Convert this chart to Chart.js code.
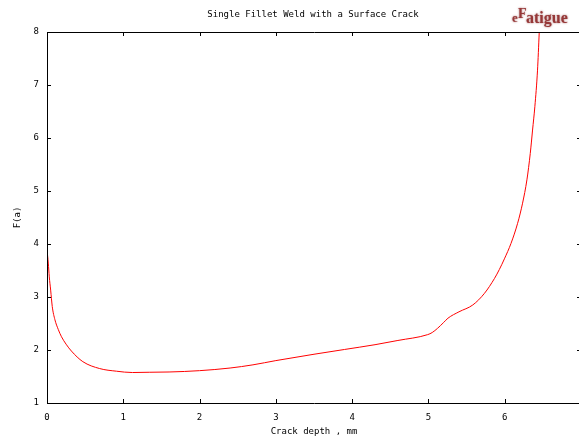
<!DOCTYPE html>
<html>
<head>
<meta charset="utf-8">
<script src="https://cdn.jsdelivr.net/npm/chart.js@4.4.0/dist/chart.umd.min.js"></script>
<style>
  html, body { margin: 0; padding: 0; background: #fff; overflow: hidden; }
  canvas { display: block; }
</style>
</head>
<body>
<canvas id="weldChart" width="590" height="441"></canvas>
<script>
// Crack depth (mm) vs F(a)
const crackDepth = [0, 0.017, 0.03, 0.048, 0.069, 0.104, 0.147, 0.19, 0.25, 0.32, 0.47, 0.69, 0.91, 1.12, 1.34, 1.6, 2.0, 2.4, 2.7, 3.0, 3.5, 3.9, 4.3, 4.6, 4.99, 5.05, 5.12, 5.2, 5.256, 5.4, 5.582, 5.735, 5.866, 5.93, 5.996, 6.082, 6.169, 6.234, 6.291, 6.335, 6.365, 6.395, 6.43, 6.452, 6.47];
const fValue = [3.89, 3.64, 3.38, 3.13, 2.82, 2.57, 2.39, 2.25, 2.11, 1.98, 1.78, 1.65, 1.60, 1.575, 1.58, 1.585, 1.61, 1.66, 1.72, 1.80, 1.92, 2.01, 2.10, 2.18, 2.29, 2.33, 2.41, 2.52, 2.60, 2.72, 2.85, 3.07, 3.35, 3.52, 3.72, 4.01, 4.39, 4.77, 5.21, 5.71, 6.15, 6.59, 7.28, 7.98, 8.6];

const titleText = 'Single Fillet Weld with a Surface Crack';
const xTitle = 'Crack depth , mm';
const yTitle = 'F(a)';

const monoFont = '"DejaVu Sans Mono", monospace';

// gnuplot-ish frame: box on all sides, ticks pointing inward, title, logo
const framePlugin = {
  id: 'gnuFrame',
  afterDraw: (chart) => {
    const ctx = chart.ctx;
    const a = chart.chartArea;
    const xs = chart.scales.x, ys = chart.scales.y;
    ctx.save();
    ctx.strokeStyle = '#000';
    ctx.lineWidth = 1;
    ctx.beginPath();
    ctx.rect(Math.round(a.left) + 0.5, Math.round(a.top) + 0.5, Math.round(a.right - a.left), Math.round(a.bottom - a.top));
    ctx.stroke();
    const tl = 4;
    ctx.beginPath();
    xs.ticks.forEach(t => {
      const px = Math.round(xs.getPixelForValue(t.value)) + 0.5;
      ctx.moveTo(px, a.bottom); ctx.lineTo(px, a.bottom - tl);
      ctx.moveTo(px, a.top); ctx.lineTo(px, a.top + tl);
    });
    ys.ticks.forEach(t => {
      const py = Math.round(ys.getPixelForValue(t.value)) + 0.5;
      ctx.moveTo(a.left, py); ctx.lineTo(a.left + tl, py);
      ctx.moveTo(a.right, py); ctx.lineTo(a.right - tl, py);
    });
    ctx.stroke();

    // title
    ctx.fillStyle = '#000';
    ctx.font = '9px ' + monoFont;
    ctx.textAlign = 'center';
    ctx.textBaseline = 'middle';
    ctx.fillText(titleText, 313, 15);

    // logo
    ctx.textAlign = 'left';
    ctx.textBaseline = 'alphabetic';
    ctx.fillStyle = '#963838';
    ctx.shadowColor = 'rgba(130,40,40,0.7)';
    ctx.shadowBlur = 2;
    ctx.font = 'bold 13px "Liberation Serif", serif';
    ctx.fillText('e', 512, 22);
    ctx.font = 'bold 14px "Liberation Serif", serif';
    ctx.fillText('F', 518, 18);
    ctx.font = 'bold 16px "Liberation Serif", serif';
    ctx.fillText('atigue', 526, 23);
    ctx.restore();
  }
};

new Chart(document.getElementById('weldChart').getContext('2d'), {
  type: 'line',
  data: {
    labels: crackDepth,
    datasets: [{
      data: crackDepth.map((x, i) => ({ x: x, y: fValue[i] })),
      borderColor: '#ff0000',
      borderWidth: 1,
      pointRadius: 0,
      cubicInterpolationMode: 'monotone',
      fill: false
    }]
  },
  options: {
    responsive: false,
    animation: false,
    devicePixelRatio: 1,
    layout: { padding: { top: 32, right: 6, left: 0, bottom: 0 } },
    plugins: { legend: { display: false }, tooltip: { enabled: false } },
    scales: {
      x: {
        type: 'linear', min: 0, max: 7,
        afterFit: (s) => { s.height = 38; },
        grid: { display: false, drawTicks: false },
        border: { display: false },
        ticks: {
          stepSize: 1, padding: 9, color: '#000', maxRotation: 0,
          font: { family: monoFont, size: 9 },
          callback: (v) => v === 7 ? '' : v
        },
        title: {
          display: true, text: xTitle, color: '#000',
          font: { family: monoFont, size: 9 },
          padding: { top: 0, bottom: 4 }
        }
      },
      y: {
        type: 'linear', min: 1, max: 8,
        afterFit: (s) => { s.width = 47; },
        grid: { display: false, drawTicks: false },
        border: { display: false },
        ticks: {
          stepSize: 1, padding: 8, color: '#000',
          font: { family: monoFont, size: 9 }
        },
        title: {
          display: true, text: yTitle, color: '#000',
          font: { family: monoFont, size: 9 },
          padding: { top: 12, bottom: 0 }
        }
      }
    }
  },
  plugins: [framePlugin]
});
</script>
</body>
</html>
